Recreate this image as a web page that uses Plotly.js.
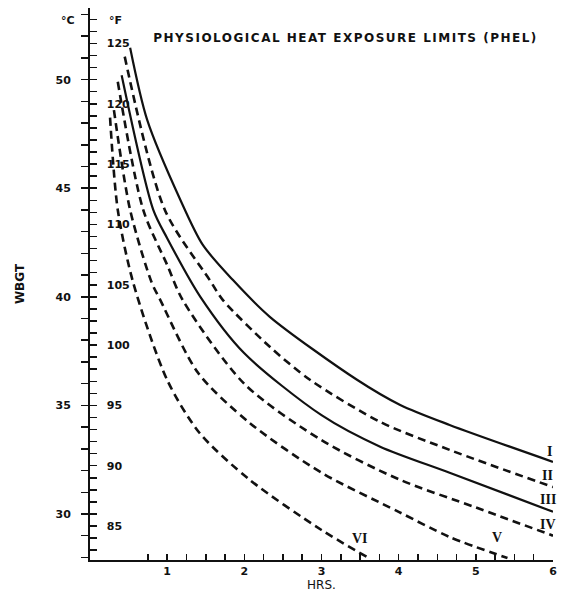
<!DOCTYPE html>
<html><head><meta charset="utf-8">
<script src="https://cdn.plot.ly/plotly-3.0.1.min.js"></script>
<style>
html,body{margin:0;padding:0;background:#fff}
.annotation[data-index="6"] text{letter-spacing:1.5px}
</style>
</head><body>
<div id="chart" style="width:562px;height:592px"></div>
<script>
// Curve data: exposure time (hours) vs WBGT (deg C)
const seriesNames = ['I', 'II', 'III', 'IV', 'V', 'VI'];
const hoursI   = [0.52, 0.74, 1.17, 1.46, 1.85, 2.33, 3.46, 4.02, 4.66, 6.0];
const wbgtI    = [51.47, 48.16, 44.47, 42.4, 40.78, 39.08, 36.18, 35.02, 34.1, 32.4];
const hoursII  = [0.45, 0.97, 1.55, 1.72, 2.33, 2.85, 3.76, 4.66, 6.0];
const wbgtII   = [51.06, 44.0, 40.78, 39.86, 37.7, 36.18, 34.24, 32.95, 31.24];
const hoursIII = [0.41, 0.82, 1.0, 1.43, 2.0, 3.0, 3.76, 4.66, 6.0];
const wbgtIII  = [50.2, 44.0, 42.7, 40.0, 37.4, 34.55, 33.1, 31.9, 30.1];
const hoursIV  = [0.36, 0.69, 1.0, 1.2, 2.0, 3.0, 4.0, 5.0, 6.0];
const wbgtIV   = [49.9, 44.0, 41.47, 39.86, 35.99, 33.4, 31.6, 30.3, 29.0];
const hoursV   = [0.31, 0.52, 0.8, 0.91, 1.4, 2.07, 3.0, 4.0, 4.66, 5.41];
const wbgtV    = [48.6, 44.0, 40.65, 39.86, 36.5, 34.19, 31.9, 30.1, 28.94, 27.97];
const hoursVI  = [0.26, 0.36, 0.56, 1.0, 1.42, 2.07, 3.0, 3.59];
const wbgtVI   = [48.25, 44.0, 40.65, 36.17, 33.73, 31.57, 29.26, 28.02];
const dashedSeries = ['II', 'IV', 'V', 'VI'];

// Curve label positions (hours, deg C)
const labelHours = [5.96, 5.93, 5.93, 5.93, 5.28, 3.50];
const labelWbgt  = [32.86, 31.75, 30.65, 29.5, 28.9, 28.85];

// Axis ranges and tick labels
const hourRange = [0, 6];
const celsiusRange = [27.88, 53.3];
const hourTickVals = [1, 2, 3, 4, 5, 6];
const hourTickText = ['1', '2', '3', '4', '5', '6'];

const toF = c => c * 9 / 5 + 32;
const fahrenheitRange = celsiusRange.map(toF);

const hoursAll = [hoursI, hoursII, hoursIII, hoursIV, hoursV, hoursVI];
const wbgtAll = [wbgtI, wbgtII, wbgtIII, wbgtIV, wbgtV, wbgtVI];

const tickFont = {family: 'DejaVu Sans', size: 11, color: '#111', weight: 'bold'};

const traces = seriesNames.map((name, i) => {
  const dashed = dashedSeries.includes(name);
  return {
    type: 'scatter', mode: 'lines', name: name,
    x: hoursAll[i], y: wbgtAll[i],
    xaxis: 'x', yaxis: 'y',
    line: {color: '#111', width: dashed ? 2.6 : 2.2, dash: dashed ? '8px,5px' : 'solid',
           shape: 'spline', smoothing: 0.8},
    hoverinfo: 'skip', showlegend: false
  };
});

const annotations = seriesNames.map((name, i) => ({
  x: labelHours[i], y: labelWbgt[i], xref: 'x', yref: 'y',
  text: name, showarrow: false, xanchor: 'center', yanchor: 'middle',
  font: {family: 'Liberation Serif', size: 14, color: '#111', weight: 'bold'}
}));
annotations.push({
  x: 0.552, y: 0.9457, xref: 'paper', yref: 'paper', yanchor: 'middle', xanchor: 'center',
  text: 'PHYSIOLOGICAL HEAT EXPOSURE LIMITS (PHEL)', showarrow: false,
  font: {family: 'DejaVu Sans', size: 12, color: '#111', weight: 'bold'}
});
annotations.push({
  x: -0.0475, y: 0.978, xref: 'paper', yref: 'paper', xanchor: 'center', yanchor: 'middle',
  text: '°C', showarrow: false,
  font: {family: 'DejaVu Sans', size: 11, color: '#111', weight: 'bold'}
});
annotations.push({
  x: 0.054, y: 0.978, xref: 'paper', yref: 'paper', xanchor: 'center', yanchor: 'middle',
  text: '°F', showarrow: false,
  font: {family: 'DejaVu Sans', size: 11, color: '#111', weight: 'bold'}
});

const layout = {
  width: 562, height: 592,
  margin: {l: 90, r: 9, t: 8, b: 32},
  paper_bgcolor: '#fff', plot_bgcolor: '#fff',
  showlegend: false,
  xaxis: {
    range: hourRange, showgrid: false, zeroline: false,
    showline: true, linewidth: 2, linecolor: '#111',
    tickmode: 'array', tickvals: hourTickVals, ticktext: hourTickText,
    ticks: 'inside', ticklen: 6, tickwidth: 1.5, tickcolor: '#111',
    minor: {dtick: 0.25, tick0: 0, ticks: 'inside', ticklen: 6, tickwidth: 1.5, tickcolor: '#111'},
    tickfont: tickFont,
    title: {text: 'HRS.', font: {family: 'DejaVu Sans', size: 12, color: '#111'}, standoff: 2}
  },
  yaxis: {
    range: celsiusRange, showgrid: false, zeroline: false,
    showline: true, linewidth: 2, linecolor: '#111',
    tickmode: 'linear', tick0: 30, dtick: 5,
    ticks: 'outside', ticklen: 7, tickwidth: 1.5, tickcolor: '#111',
    minor: {dtick: 1, tick0: 30, ticks: 'outside', ticklen: 7, tickwidth: 1.5, tickcolor: '#111'},
    ticklabelstandoff: 8,
    tickfont: tickFont,
    title: {text: 'WBGT', font: {family: 'DejaVu Sans', size: 12, color: '#111', weight: 'bold'}, standoff: 28}
  },
  yaxis2: {
    overlaying: 'y', side: 'left', anchor: 'x',
    range: fahrenheitRange, showgrid: false, zeroline: false, showline: false,
    tickmode: 'linear', tick0: 85, dtick: 5,
    ticks: 'inside', ticklen: 7, tickwidth: 1.5, tickcolor: '#111',
    minor: {dtick: 1, tick0: 85, ticks: 'inside', ticklen: 7, tickwidth: 1.5, tickcolor: '#111'},
    ticklabelposition: 'inside',
    ticklabelstandoff: 9,
    tickfont: tickFont
  },
  annotations: annotations
};

// invisible companion trace so the °F axis is drawn (curve I, converted to °F)
traces.push({
  type: 'scatter', mode: 'lines', x: hoursI, y: wbgtI.map(toF),
  xaxis: 'x', yaxis: 'y2', line: {width: 0, color: 'rgba(0,0,0,0)'},
  hoverinfo: 'skip', showlegend: false
});

Plotly.newPlot('chart', traces, layout, {staticPlot: true, displayModeBar: false});
</script>
</body></html>
